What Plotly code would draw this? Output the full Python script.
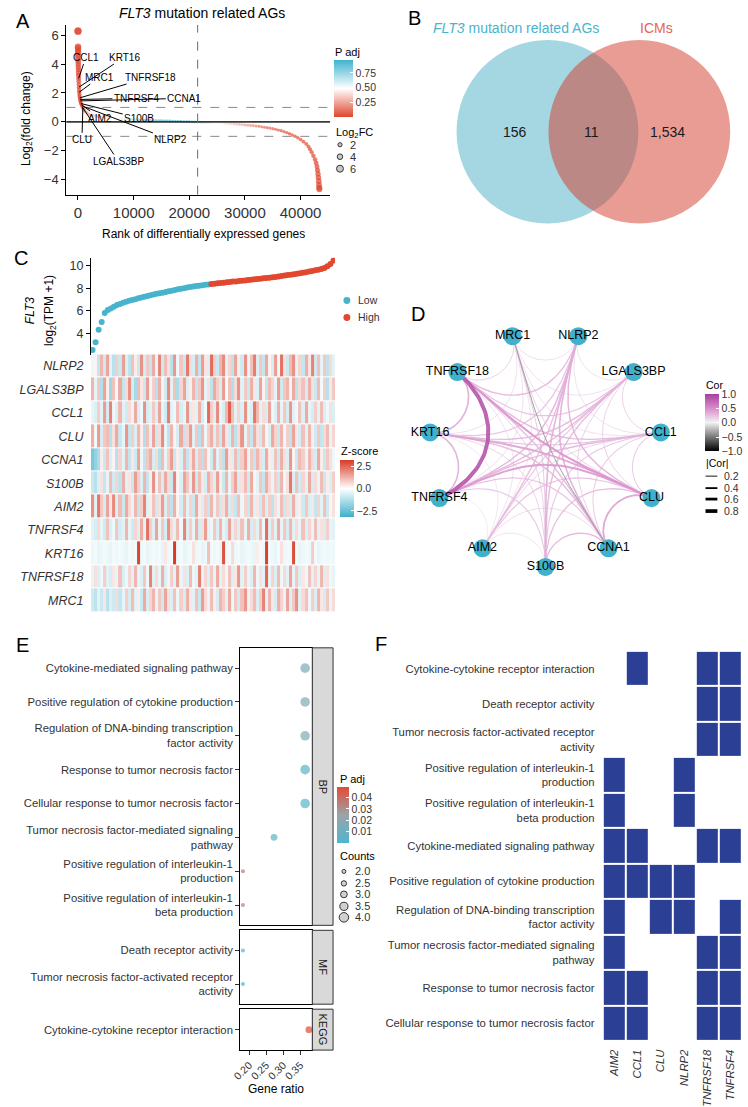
import numpy as np
import plotly.graph_objects as go

W, H = 748, 1107
def X(px): return px / W
def Y(py): return 1 - py / H

FONT = "Liberation Sans, Arial, Helvetica, sans-serif"
INK = "#1a1a1a"
GT = "#333333"
TEAL = "#47B3CC"
RED = "#E2472F"

# ================= Panel A data =================
a_rank_head = [1, 3, 6, 10, 15, 21, 28, 36, 45, 55,
               66, 78, 91, 105, 120, 137, 156, 177, 200, 226,
               255, 288, 325, 367, 415, 470, 532, 600, 680, 770,
               870, 990, 1130, 1300, 1500, 1750, 2050, 2400, 2800, 3300, 3700]
a_fc_head = [6.3, 6.25, 5.2, 5.1, 4.95, 4.8, 4.6, 4.4, 4.2, 4.0,
             3.8, 3.6, 3.4, 3.2, 3.0, 2.8, 2.6, 2.4, 2.2, 2.05,
             1.9, 1.78, 1.66, 1.55, 1.45, 1.36, 1.27, 1.19, 1.11, 1.03,
             0.96, 0.88, 0.8, 0.72, 0.65, 0.58, 0.52, 0.47, 0.43, 0.4, 0.38]
a_padj_head = [0.001, 0.001, 0.002, 0.001, 0.002, 0.001, 0.002, 0.001, 0.002, 0.001,
               0.002, 0.003, 0.002, 0.003, 0.002, 0.003, 0.004, 0.003, 0.004, 0.005,
               0.004, 0.005, 0.006, 0.007, 0.008, 0.009, 0.01, 0.012, 0.02, 0.05,
               0.08, 0.12, 0.16, 0.2, 0.24, 0.27, 0.29, 0.31, 0.32, 0.33, 0.34]
a_rank_mid = [4000, 4500, 5000, 5500, 6000, 6500, 7000, 7500, 8000, 8500,
              9000, 9500, 10000, 10500, 11000, 11500, 12000, 12500, 13000, 13500,
              14000, 14500, 15000, 15500, 16000, 16500, 17000, 17500, 18000, 18500,
              19000, 19500, 20000, 20500, 21000, 21500, 22000, 22500, 23000, 23500,
              24000, 24500, 25000, 25500, 26000, 26500, 27000, 27500, 28000, 28500,
              29000, 29500, 30000, 30500, 31000, 31500, 32000, 32500, 33000, 33500,
              34000, 34500, 35000, 35500, 36000, 36500, 37000, 37500, 38000, 38500]
a_fc_mid = [0.36, 0.33, 0.31, 0.29, 0.27, 0.25, 0.235, 0.22, 0.21, 0.20,
            0.18, 0.17, 0.16, 0.15, 0.14, 0.13, 0.12, 0.11, 0.10, 0.10,
            0.09, 0.08, 0.08, 0.07, 0.06, 0.06, 0.05, 0.04, 0.04, 0.03,
            0.02, 0.02, 0.01, 0.0, 0.0, -0.01, -0.02, -0.03, -0.04, -0.05,
            -0.06, -0.07, -0.08, -0.09, -0.10, -0.11, -0.12, -0.13, -0.15, -0.16,
            -0.18, -0.19, -0.21, -0.23, -0.25, -0.27, -0.29, -0.31, -0.34, -0.37,
            -0.40, -0.43, -0.47, -0.51, -0.56, -0.61, -0.67, -0.74, -0.82, -0.91]
a_padj_mid = [0.35, 0.37, 0.40, 0.42, 0.45, 0.48, 0.50, 0.53, 0.56, 0.60,
              0.63, 0.66, 0.70, 0.73, 0.76, 0.79, 0.82, 0.85, 0.87, 0.89,
              0.91, 0.92, 0.93, 0.94, 0.95, 0.96, 0.96, 0.97, 0.97, 0.96,
              0.94, 0.92, 0.90, 0.87, 0.83, 0.79, 0.75, 0.70, 0.65, 0.60,
              0.56, 0.52, 0.49, 0.46, 0.43, 0.40, 0.37, 0.34, 0.31, 0.29,
              0.27, 0.25, 0.23, 0.21, 0.19, 0.17, 0.15, 0.13, 0.12, 0.10,
              0.09, 0.08, 0.07, 0.06, 0.05, 0.04, 0.03, 0.03, 0.02, 0.02]
a_rank_tail = [39000, 39500, 40000, 40500, 41000, 41400, 41700, 42000, 42300, 42600,
               42800, 42950, 43050, 43130, 43200, 43260, 43310, 43350, 43380]
a_fc_tail = [-1.0, -1.1, -1.22, -1.36, -1.52, -1.7, -1.9, -2.1, -2.35, -2.6,
             -2.85, -3.1, -3.35, -3.6, -3.85, -4.1, -4.35, -4.55, -4.65]
a_padj_tail = [0.015, 0.012, 0.01, 0.008, 0.006, 0.005, 0.004, 0.003, 0.002, 0.002,
               0.001, 0.001, 0.001, 0.001, 0.001, 0.001, 0.001, 0.001, 0.001]
a_rank_cutoff = 21500
a_label_genes = ["CCL1", "KRT16", "MRC1", "TNFRSF18", "TNFRSF4", "CCNA1",
                 "S100B", "AIM2", "NLRP2", "LGALS3BP", "CLU"]
a_label_rank = [120, 177, 226, 325, 367, 415, 532, 600, 680, 770, 870]
a_label_fc = [3.0, 2.4, 2.05, 1.66, 1.55, 1.45, 1.27, 1.19, 1.11, 1.03, 0.96]
a_size_legend = [2, 4, 6]

# ================= Panel B data =================
b_sets = ["<i>FLT3</i> mutation related AGs", "ICMs"]
b_counts = ["156", "11", "1,534"]

# ================= Panel C data =================
c_flt3 = [2.5, 3.2, 4.3, 5.0, 5.8, 6.05, 6.2, 6.35, 6.5, 6.6,
          6.7, 6.8, 6.87, 6.95, 7.02, 7.1, 7.17, 7.23, 7.3, 7.37,
          7.43, 7.5, 7.55, 7.6, 7.66, 7.72, 7.78, 7.84, 7.9, 7.95,
          8.0, 8.05, 8.1, 8.14, 8.18, 8.22, 8.26, 8.3, 8.33, 8.36,
          8.4, 8.43, 8.46, 8.49, 8.52, 8.55, 8.58, 8.6, 8.63, 8.66,
          8.69, 8.72, 8.75, 8.78, 8.81, 8.84, 8.87, 8.9, 8.93, 8.97,
          9.0, 9.04, 9.08, 9.12, 9.16, 9.2, 9.24, 9.28, 9.32, 9.37,
          9.42, 9.47, 9.52, 9.58, 9.63, 9.7, 9.8, 9.95, 10.15, 10.45]
c_group_low_count = 39  # first 39 samples = Low, the rest = High
c_genes = ["NLRP2", "LGALS3BP", "CCL1", "CLU", "CCNA1", "S100B", "AIM2",
           "TNFRSF4", "KRT16", "TNFRSF18", "MRC1"]
hm_NLRP2 = [-0.3, 0.2, -1.0, 1.2, -0.8, 1.5, -0.5, -1.2, 0.8, -0.9,
            1.6, -0.6, -1.1, 1.0, 0.3, -0.9, 1.8, -0.7, 0.9, -1.0,
            1.4, -0.4, 2.0, -0.8, 1.1, 0.5, -1.2, 1.7, -0.3, 0.9,
            -0.9, 2.2, 0.6, -0.7, 1.3, -1.0, 1.6, 0.4, -0.6, 2.4,
            0.8, -0.9, 1.2, 1.9, -0.5, 0.7, -1.1, 1.5, 0.3, -0.8,
            1.8, -0.4, 1.0, 2.1, -0.6, 0.9, -1.0, 1.4, 0.2, -0.7,
            1.6, -0.3, 2.3, 0.5, -0.9, 1.1, 1.8, -0.5, 0.7, -1.0,
            1.3, 0.4, 2.0, -0.8, 1.0, -0.4, 0.9, -1.1, 0.6, -0.5]
hm_LGALS3BP = [1.2, -0.4, 0.9, -1.3, 1.5, 0.3, -1.6, 1.0, -0.2, 1.4,
               -1.0, 0.6, 1.8, -0.7, -1.5, 1.1, 0.4, -0.9, 1.6, -0.3,
               0.8, -1.2, 1.3, 0.2, -0.8, 1.9, -0.5, 1.0, -1.4, 0.7,
               1.5, -0.6, 0.3, 1.2, -1.0, 0.9, 1.7, -0.4, 0.5, -1.1,
               1.4, 0.8, -0.7, 1.6, -0.2, 1.0, -1.3, 0.6, 1.8, -0.5,
               0.9, -0.9, 1.3, 0.4, -0.6, 1.5, 0.2, -1.0, 1.1, 0.7,
               -0.4, 1.6, -0.8, 0.9, 1.2, -0.3, 1.4, -1.1, 0.6, 1.0,
               -0.7, 1.3, 0.5, -0.9, 1.1, -0.2, 0.8, -1.2, 0.4, 0.9]
hm_CCL1 = [-0.4, -0.6, 0.8, -0.5, 1.6, -0.7, 2.0, -0.3, -0.6, 1.2,
           -0.5, -0.8, 0.6, -0.4, 1.4, -0.6, -0.3, 1.8, -0.7, -0.5,
           0.9, -0.6, 1.5, -0.4, -0.8, 2.1, -0.5, -0.3, 1.1, -0.7,
           -0.4, 1.7, -0.6, 0.4, -0.5, 1.3, -0.7, -0.2, 2.4, 0.8,
           -0.6, 1.9, -0.4, -0.7, 1.2, 2.6, 1.0, -0.5, 0.7, -0.6,
           1.8, -0.4, -0.6, 2.2, 1.1, -0.5, 0.6, -0.7, 1.5, -0.3,
           -0.6, 1.3, -0.4, 0.9, -0.7, 1.7, -0.5, -0.3, 1.0, -0.6,
           1.4, -0.4, -0.7, 0.8, -0.5, 1.1, -0.6, -0.3, 0.5, -0.6]
hm_CLU = [1.3, -0.2, 1.6, -0.7, 0.9, 1.1, -1.2, 0.5, 1.4, -0.9,
          -0.4, 1.7, -1.0, 0.8, -0.6, 1.2, 0.3, -1.3, 1.0, -0.5,
          1.5, -0.8, 0.6, 1.9, -0.4, -1.1, 1.2, 0.2, -0.7, 1.4,
          -1.0, 0.7, 1.6, -0.5, 0.9, -1.2, 1.1, -0.3, 0.8, 1.3,
          -0.6, 1.0, -0.9, 1.5, 0.4, -0.7, 1.2, -1.1, 0.6, 1.7,
          -0.4, 0.9, -1.0, 1.3, 0.5, -0.8, 1.1, 0.2, -0.6, 1.4,
          0.7, -0.9, 1.2, -0.3, 0.8, -1.1, 1.5, 0.4, -0.7, 1.0,
          -0.5, 1.2, 0.3, -0.8, 0.9, -1.0, 0.6, 1.1, -0.4, 0.7]
hm_CCNA1 = [-2.2, -1.8, -1.4, 0.3, -0.9, 1.0, -0.6, 0.2, -1.2, 0.7,
            -0.5, 1.2, -1.0, 0.4, -0.8, 1.5, -0.3, -1.1, 0.9, 1.3,
            -0.7, 0.6, -1.3, 1.1, -0.4, 0.8, 1.6, -0.9, 0.3, -0.6,
            1.2, -1.0, 0.5, 1.4, -0.7, 0.9, -1.2, 1.0, 0.2, -0.8,
            1.3, -0.5, 0.7, -1.1, 1.6, 0.4, -0.6, 1.1, -0.9, 0.8,
            1.5, -0.4, 0.9, -1.0, 1.2, 0.6, -0.7, 1.4, 0.3, -0.5,
            1.0, -0.8, 1.3, 0.5, -0.6, 1.7, 0.2, -0.9, 1.1, 0.8,
            -0.4, 1.2, 0.6, -0.7, 1.4, 0.3, -0.9, 0.9, 0.5, -0.3]
hm_S100B = [-0.9, -1.2, -0.6, 0.5, -1.0, -0.4, 1.1, -0.8, 0.7, -1.1,
            1.3, -0.5, 0.4, -0.9, 1.6, 0.8, -0.6, 1.2, -1.0, 0.3,
            1.8, -0.4, 1.0, -0.7, 1.4, 0.6, -0.9, 2.0, 0.2, -0.6,
            1.5, 0.9, -0.5, 1.7, -0.8, 1.1, 0.4, -0.7, 1.3, 0.7,
            -0.6, 1.6, 0.3, -0.9, 1.2, -0.4, 0.8, 1.5, -0.7, 0.5,
            1.1, -0.8, 1.4, 0.2, -0.5, 0.9, -1.0, 1.3, 0.6, -0.4,
            0.8, -0.9, 1.2, -0.3, 0.5, 2.2, -0.6, 1.0, -0.8, 0.7,
            -0.5, 1.4, -0.7, 0.6, -0.4, 1.1, -0.9, 0.3, -0.6, 0.8]
hm_AIM2 = [1.8, -0.5, 2.2, 0.9, -0.7, 1.5, 0.4, 1.9, -0.6, 1.1,
           -0.9, 1.4, 0.6, -0.4, 1.2, -1.0, 0.8, 2.0, -0.5, 0.3,
           1.0, -0.8, 0.5, 1.6, -0.6, 0.9, -1.1, 1.3, 0.2, -0.7,
           1.1, -0.5, 0.7, -0.9, 1.4, 0.3, -0.6, 0.8, -1.0, 1.2,
           -0.4, 0.9, -0.8, 0.5, 1.3, -0.7, 0.6, -1.0, 1.0, -0.3,
           0.7, -0.9, 1.2, -0.5, 0.4, -0.8, 1.0, -0.6, 0.8, -1.1,
           0.5, -0.4, 1.1, -0.9, 0.6, -0.7, 1.3, -0.5, 0.3, -0.8,
           0.9, -0.6, 0.4, -1.0, 0.7, -0.5, 1.0, -0.8, 0.2, 0.5]
hm_TNFRSF4 = [-0.5, -0.7, 0.6, -0.4, -0.8, 1.0, -0.6, -0.3, 0.9, -0.7,
              -0.5, 1.2, -0.4, -0.8, 0.7, -0.6, 1.4, -0.5, 2.3, 0.8,
              -0.6, 1.5, -0.4, 0.9, -0.7, 1.8, 0.6, -0.5, 1.1, -0.3,
              2.0, -0.6, 0.8, -0.4, 1.3, -0.7, 0.5, 1.6, -0.5, -0.3,
              0.9, -0.6, 1.2, -0.4, -0.7, 1.5, -0.5, 0.7, -0.6, 1.0,
              -0.4, 1.3, -0.7, 0.6, -0.5, 1.1, -0.3, 2.4, -0.6, 0.8,
              -0.5, 1.4, -0.4, 0.9, -0.7, 1.2, -0.5, 0.6, -0.4, 1.0,
              -0.6, 0.7, -0.4, 1.1, -0.5, 0.5, -0.7, 0.8, -0.4, -0.5]
hm_KRT16 = [-0.3, -0.2, -0.4, -0.3, -0.2, -0.3, -0.4, -0.2, -0.3, -0.2,
            -0.3, -0.4, -0.2, -0.3, -0.2, 3.0, -0.3, -0.2, -0.4, -0.3,
            -0.2, -0.3, -0.2, -0.4, 0.4, -0.3, -0.2, 3.2, -0.3, -0.2,
            -0.4, -0.3, -0.2, 0.5, -0.3, -0.2, -0.4, -0.3, 1.0, -0.2,
            -0.3, -0.2, -0.4, 2.8, -0.3, -0.2, 0.6, -0.3, -0.2, -0.4,
            -0.3, -0.2, -0.3, -0.4, 0.3, -0.2, -0.3, 3.1, -0.2, -0.3,
            -0.4, -0.2, 0.5, -0.3, -0.2, -0.3, 2.9, -0.2, -0.4, -0.3,
            -0.2, -0.3, 0.8, -0.2, -0.4, -0.3, -0.2, -0.3, -0.2, -0.3]
hm_TNFRSF18 = [-0.4, 0.5, -0.6, -0.3, 0.8, -0.5, -0.7, 0.4, -0.4, 1.0,
               -0.6, -0.3, 0.7, -0.5, 1.2, -0.4, -0.6, 0.9, -0.3, 2.0,
               -0.5, 0.6, -0.4, 1.3, -0.6, -0.3, 0.8, -0.5, 1.6, -0.4,
               0.5, -0.6, 1.1, -0.3, -0.5, 2.1, -0.4, 0.7, -0.6, 0.9,
               -0.4, 1.4, -0.5, 0.6, -0.3, 1.0, -0.6, 0.4, 1.7, -0.5,
               0.8, -0.4, -0.6, 1.2, -0.3, 0.5, -0.5, 2.5, -0.4, 0.7,
               -0.6, 1.1, -0.3, 0.6, -0.5, 1.5, -0.4, 0.9, -0.6, 0.4,
               -0.3, 1.0, -0.5, 0.7, -0.4, 1.2, -0.6, 0.5, -0.3, -0.4]
hm_MRC1 = [-0.8, -1.1, -0.5, -0.9, 0.4, -1.2, -0.6, -0.8, 0.6, -1.0,
           -0.4, 0.8, -0.7, 1.1, -0.5, 0.3, -0.9, 1.4, -0.6, 0.7,
           1.2, -0.4, 0.9, -0.8, 1.5, 0.5, -0.6, 1.0, -0.3, 0.8,
           -0.7, 1.3, 0.4, -0.5, 1.0, -0.9, 1.6, 0.6, -0.4, 1.1,
           0.3, -0.7, 1.2, 0.8, -0.5, 1.4, -0.3, 0.9, -0.8, 1.0,
           1.7, -0.4, 0.6, 1.1, -0.6, 0.8, 2.0, -0.5, 1.2, 0.4,
           -0.7, 1.3, 0.7, -0.4, 1.5, -0.6, 0.9, 1.8, -0.5, 0.6,
           1.0, -0.3, 0.8, -0.6, 1.2, 0.4, -0.7, 0.9, -0.4, 0.6]
c_heat = [hm_NLRP2, hm_LGALS3BP, hm_CCL1, hm_CLU, hm_CCNA1, hm_S100B, hm_AIM2,
          hm_TNFRSF4, hm_KRT16, hm_TNFRSF18, hm_MRC1]

# ================= Panel D data =================
d_nodes = ["S100B", "CCNA1", "CLU", "CCL1", "LGALS3BP", "NLRP2", "MRC1",
           "TNFRSF18", "KRT16", "TNFRSF4", "AIM2"]
d_from = ["TNFRSF18", "TNFRSF18", "KRT16", "TNFRSF18", "KRT16", "TNFRSF4", "CLU", "MRC1", "NLRP2", "NLRP2",
          "NLRP2", "NLRP2", "NLRP2", "LGALS3BP", "LGALS3BP", "LGALS3BP", "LGALS3BP", "LGALS3BP", "LGALS3BP", "CCL1",
          "CCL1", "CCL1", "CCL1", "CCL1", "CCL1", "CCL1", "CLU", "CLU", "CCNA1", "CCNA1",
          "CCNA1", "CCNA1", "S100B", "S100B", "S100B", "S100B", "AIM2", "AIM2", "AIM2", "MRC1",
          "MRC1", "MRC1", "MRC1", "MRC1", "MRC1", "MRC1", "NLRP2", "NLRP2", "NLRP2", "LGALS3BP",
          "MRC1", "KRT16", "CCL1", "NLRP2", "MRC1"]
d_to = ["TNFRSF4", "KRT16", "TNFRSF4", "CLU", "CLU", "CLU", "CCNA1", "CCNA1", "TNFRSF4", "AIM2",
        "S100B", "KRT16", "TNFRSF18", "TNFRSF4", "AIM2", "S100B", "KRT16", "TNFRSF18", "CCNA1", "KRT16",
        "TNFRSF4", "TNFRSF18", "S100B", "CCNA1", "CLU", "LGALS3BP", "AIM2", "S100B", "TNFRSF4", "AIM2",
        "S100B", "TNFRSF18", "TNFRSF4", "AIM2", "TNFRSF18", "KRT16", "TNFRSF4", "TNFRSF18", "KRT16", "TNFRSF18",
        "NLRP2", "KRT16", "TNFRSF4", "CLU", "S100B", "LGALS3BP", "LGALS3BP", "CLU", "CCNA1", "CLU",
        "CCL1", "CCNA1", "AIM2", "CCL1", "AIM2"]
d_cor = [0.86, 0.36, 0.34, 0.46, 0.40, 0.44, 0.40, -0.38, 0.32, 0.28,
         0.34, 0.26, 0.30, 0.30, 0.24, 0.30, 0.30, 0.26, 0.20, 0.26,
         0.30, 0.30, 0.24, 0.22, 0.22, 0.20, 0.26, 0.28, 0.26, 0.18,
         0.30, 0.30, 0.24, 0.14, 0.20, 0.20, 0.10, 0.16, 0.12, 0.20,
         0.16, 0.16, 0.16, 0.20, 0.22, 0.16, 0.16, 0.32, 0.34, 0.20,
         0.16, 0.30, 0.20, 0.16, 0.14]
d_abs_legend = [0.2, 0.4, 0.6, 0.8]

# ================= Panel E data =================
e_terms = ["Cytokine-mediated signaling pathway",
           "Positive regulation of cytokine production",
           "Regulation of DNA-binding transcription<br>factor activity",
           "Response to tumor necrosis factor",
           "Cellular response to tumor necrosis factor",
           "Tumor necrosis factor-mediated signaling<br>pathway",
           "Positive regulation of interleukin-1<br>production",
           "Positive regulation of interleukin-1<br>beta production",
           "Death receptor activity",
           "Tumor necrosis factor-activated receptor<br>activity",
           "Cytokine-cytokine receptor interaction"]
e_ontology = ["BP", "BP", "BP", "BP", "BP", "BP", "BP", "BP", "MF", "MF", "KEGG"]
e_ratio = [0.364, 0.364, 0.364, 0.364, 0.364, 0.273, 0.182, 0.182, 0.182, 0.182, 0.375]
e_count = [4, 4, 4, 4, 4, 3, 2, 2, 2, 2, 3]
e_padj = [0.016, 0.016, 0.017, 0.004, 0.004, 0.005, 0.036, 0.036, 0.0003, 0.0003, 0.0497]
e_count_legend = [2.0, 2.5, 3.0, 3.5, 4.0]

# ================= Panel F data =================
f_genes = ["AIM2", "CCL1", "CLU", "NLRP2", "TNFRSF18", "TNFRSF4"]
f_terms = ["Cytokine-cytokine receptor interaction",
           "Death receptor activity",
           "Tumor necrosis factor-activated receptor<br>activity",
           "Positive regulation of interleukin-1<br>production",
           "Positive regulation of interleukin-1<br>beta production",
           "Cytokine-mediated signaling pathway",
           "Positive regulation of cytokine production",
           "Regulation of DNA-binding transcription<br>factor activity",
           "Tumor necrosis factor-mediated signaling<br>pathway",
           "Response to tumor necrosis factor",
           "Cellular response to tumor necrosis factor"]
f_members = [["CCL1", "TNFRSF18", "TNFRSF4"],
             ["TNFRSF18", "TNFRSF4"],
             ["TNFRSF18", "TNFRSF4"],
             ["AIM2", "NLRP2"],
             ["AIM2", "NLRP2"],
             ["AIM2", "CCL1", "TNFRSF18", "TNFRSF4"],
             ["AIM2", "CCL1", "CLU", "NLRP2"],
             ["AIM2", "CLU", "NLRP2", "TNFRSF4"],
             ["AIM2", "TNFRSF18", "TNFRSF4"],
             ["AIM2", "CCL1", "TNFRSF18", "TNFRSF4"],
             ["AIM2", "CCL1", "TNFRSF18", "TNFRSF4"]]

# ================= helpers =================
fig = go.Figure()
ann = []
shapes = []

def txt(x, y, s, size=11, color=INK, xanchor="center", yanchor="middle", angle=0):
    ann.append(dict(x=X(x), y=Y(y), xref="paper", yref="paper", text=s, showarrow=False,
                    font=dict(size=size, color=color, family=FONT),
                    xanchor=xanchor, yanchor=yanchor, textangle=angle))

def circ(cx, cy, d, fill, lc="black", lw=1.0):
    shapes.append(dict(type="circle", xref="paper", yref="paper",
                       x0=X(cx - d / 2), x1=X(cx + d / 2), y0=Y(cy + d / 2), y1=Y(cy - d / 2),
                       fillcolor=fill, line=dict(color=lc, width=lw)))

def pline(x0, y0, x1, y1, color="black", width=1, dash="solid"):
    shapes.append(dict(type="line", xref="paper", yref="paper", x0=X(x0), x1=X(x1),
                       y0=Y(y0), y1=Y(y1), line=dict(color=color, width=width, dash=dash)))

def cbar(x, ytop, length, thick, tickvals, ticktext):
    return dict(x=X(x), xanchor="left", y=Y(ytop), yanchor="top", len=length, lenmode="pixels",
                thickness=thick, thicknessmode="pixels", xpad=0, ypad=0, outlinewidth=0,
                tickvals=tickvals, ticktext=ticktext, ticks="inside", ticklen=3, tickcolor="white",
                tickfont=dict(size=10.5, color=GT, family=FONT))

def hex2rgb(h):
    h = h.lstrip("#")
    return [int(h[i:i + 2], 16) for i in (0, 2, 4)]

def scale_color(scale, t):
    t = min(max(t, 0), 1)
    for (p0, c0), (p1, c1) in zip(scale[:-1], scale[1:]):
        if p0 <= t <= p1:
            f = 0 if p1 == p0 else (t - p0) / (p1 - p0)
            a, b = hex2rgb(c0), hex2rgb(c1)
            return "rgb(%d,%d,%d)" % tuple(round(a[i] + (b[i] - a[i]) * f) for i in range(3))
    return scale[-1][1]

letters = [("A", 5, 21), ("B", 402, 18), ("C", 3, 258), ("D", 405, 315), ("E", 5, 646), ("F", 368, 645)]
for s, x, y in letters:
    txt(x, y, s, 20, "black", xanchor="left")

# ================= Panel A =================
A_SCALE = [[0, "#E0462F"], [0.5, "#FFFFFF"], [1, "#3FB3CF"]]
a_rank = a_rank_mid + a_rank_tail + a_rank_head
a_fc = a_fc_mid + a_fc_tail + a_fc_head
a_padj = a_padj_mid + a_padj_tail + a_padj_head
a_size = lambda v: 2.8 + 0.7 * abs(v)
fig.add_trace(go.Scatter(
    x=a_rank, y=a_fc, mode="markers", xaxis="x", yaxis="y", hoverinfo="skip", showlegend=False,
    marker=dict(size=[a_size(v) for v in a_fc], color=a_padj, colorscale=A_SCALE, cmin=0, cmax=0.97,
                line=dict(width=0), showscale=True,
                colorbar=cbar(329, 60, 57, 19, [0.25, 0.5, 0.75], ["0.25", "0.50", "0.75"]))))

shapes.append(dict(type="line", xref="x domain", yref="y", x0=0, x1=1, y0=0, y1=0,
                   line=dict(color="#3a3a3a", width=1.6)))
for yv in (1, -1):
    shapes.append(dict(type="line", xref="x domain", yref="y", x0=0, x1=1, y0=yv, y1=yv,
                       line=dict(color="#8a8a8a", width=1, dash="dash")))
shapes.append(dict(type="line", xref="x", yref="y domain", x0=a_rank_cutoff, x1=a_rank_cutoff, y0=0, y1=1,
                   line=dict(color="#6a6a6a", width=1, dash="dash")))

a_label_text = {"CCL1": (1422, 4.48), "KRT16": (8355, 4.48), "MRC1": (3911, 3.1),
                "TNFRSF18": (12978, 3.1), "TNFRSF4": (10490, 1.63), "CCNA1": (19100, 1.63),
                "AIM2": (3900, 0.26), "S100B": (11000, 0.26), "NLRP2": (16700, -1.24),
                "CLU": (710, -1.24), "LGALS3BP": (7290, -2.74)}
for g, r, f in zip(a_label_genes, a_label_rank, a_label_fc):
    tx, ty = a_label_text[g]
    ann.append(dict(x=r, y=f, xref="x", yref="y", ax=tx, ay=ty, axref="x", ayref="y", text=g,
                    showarrow=True, arrowhead=0, arrowwidth=1, arrowcolor="black", standoff=0,
                    startstandoff=0, font=dict(size=10, color="black", family=FONT)))

txt(195, 13, "<i>FLT3</i> mutation related AGs", 14, "black")
txt(17.5, 119, "Log<sub>2</sub>(fold change)", 12, "black", angle=-90)
txt(197, 234, "Rank of differentially expressed genes", 12, "black")
txt(328, 52, "P adj", 11, "black", xanchor="left")
txt(329, 133, "Log<sub>2</sub>FC", 11, "black", xanchor="left")
for v, yy in zip(a_size_legend, (145, 157, 169)):
    circ(335, yy, a_size(v), "#C8C8C8", "#333333", 1)
    txt(343, yy, str(v), 11, GT, xanchor="left")

# ================= Panel B (Venn) =================
circ(545, 132, 184, "rgba(75,175,197,0.5)", "rgba(0,0,0,0)", 0)
circ(638, 132, 184, "rgba(211,57,41,0.5)", "rgba(0,0,0,0)", 0)
txt(513, 28, b_sets[0], 14, "#48B4CD")
txt(655, 28, b_sets[1], 14, "#E66450")
for s, x in zip(b_counts, (512, 590, 667)):
    txt(x, 132, s, 14, "#1a1a1a")

# ================= Panel C =================
n_c = len(c_flt3)
c_idx = list(range(n_c))
lo = c_group_low_count
fig.add_trace(go.Scatter(x=c_idx[:lo], y=c_flt3[:lo], mode="markers", xaxis="x3", yaxis="y3",
                         marker=dict(size=6, color=TEAL), hoverinfo="skip", showlegend=False))
fig.add_trace(go.Scatter(x=c_idx[lo:], y=c_flt3[lo:], mode="markers", xaxis="x3", yaxis="y3",
                         marker=dict(size=6, color=RED), hoverinfo="skip", showlegend=False))
C_SCALE = [[0, "#3FAFCB"], [0.5, "#FFFFFF"], [1, "#D93A25"]]
fig.add_trace(go.Heatmap(z=c_heat, x=c_idx, y=list(range(len(c_genes))), xaxis="x4", yaxis="y4",
                         colorscale=C_SCALE, zmin=-3.2, zmax=3.2, ygap=1, hoverinfo="skip",
                         showscale=True,
                         colorbar=cbar(335, 461, 57, 14, [-2.5, 0, 2.5], ["\u22122.5", "0.0", "2.5"])))
txt(22, 311, "<i>FLT3</i>", 12, "black", angle=-90)
txt(42, 311, "log<sub>2</sub>(TPM +1)", 12, "black", angle=-90)
circ(342, 301, 7, TEAL, TEAL, 0)
circ(342, 318, 7, RED, RED, 0)
txt(351, 301, "Low", 10.5, GT, xanchor="left")
txt(351, 318, "High", 10.5, GT, xanchor="left")
txt(334, 452, "Z-score", 11, "black", xanchor="left")

# ================= Panel D =================
COR_SCALE = [[0, "#000000"], [0.25, "#7A7A7A"], [0.5, "#F2F2F2"], [0.75, "#D98BCB"], [1, "#A8409E"]]
ang = {n: np.deg2rad(-90 + i * 360 / len(d_nodes)) for i, n in enumerate(d_nodes)}
pos = {n: np.array([np.cos(a), np.sin(a)]) for n, a in ang.items()}
tt = np.linspace(0, 1, 50)[:, None]
for f, to, c in sorted(zip(d_from, d_to, d_cor), key=lambda e: abs(e[2])):
    p0, p3 = pos[f], pos[to]
    dd = np.linalg.norm(p3 - p0) / 2
    p1, p2 = p0 * (1 - dd), p3 * (1 - dd)
    pts = (1 - tt) ** 3 * p0 + 3 * (1 - tt) ** 2 * tt * p1 + 3 * (1 - tt) * tt ** 2 * p2 + tt ** 3 * p3
    wdt = max(0.7, 4.6 * abs(c)) if c > 0 else 1.0
    fig.add_trace(go.Scatter(x=pts[:, 0], y=pts[:, 1], mode="lines", xaxis="x5", yaxis="y5",
                             line=dict(color=scale_color(COR_SCALE, (c + 1) / 2), width=wdt),
                             opacity=0.9, hoverinfo="skip", showlegend=False))
fig.add_trace(go.Scatter(x=[pos[n][0] for n in d_nodes], y=[pos[n][1] for n in d_nodes],
                         mode="markers+text", text=d_nodes, textposition="middle center",
                         textfont=dict(size=12.5, color="black", family=FONT),
                         marker=dict(size=18, color="#41B0CB"), xaxis="x5", yaxis="y5",
                         hoverinfo="skip", showlegend=False))
fig.add_trace(go.Scatter(x=[0], y=[0], mode="markers", xaxis="x5", yaxis="y5", hoverinfo="skip",
                         showlegend=False,
                         marker=dict(size=0.1, color=[0], cmin=-1, cmax=1, colorscale=COR_SCALE,
                                     showscale=True,
                                     colorbar=cbar(704, 395, 57, 14, [-1, -0.5, 0, 0.5, 1],
                                                   ["\u22121.0", "\u22120.5", "0.0", "0.5", "1.0"]))))
txt(703, 386, "Cor", 10.5, "black", xanchor="left")
txt(703, 464, "|Cor|", 10.5, "black", xanchor="left")
for v, yy in zip(d_abs_legend, (477, 489, 500, 512)):
    pline(705, yy, 717, yy, "black", 4.6 * v)
    txt(722, yy, str(v), 10.5, GT, xanchor="left")

# ================= Panel E =================
E_SCALE = [[0, "#4DB6CF"], [0.5, "#9AA4A8"], [1, "#E24A33"]]
e_size = lambda c: 4 + (c - 2) * 2.8
e_cmin, e_cmax = min(e_padj), max(e_padj)
panels = [("BP", "x6", "y6"), ("MF", "x7", "y7"), ("KEGG", "x8", "y8")]
e_ticks = {}
for k, (ont, xa, ya) in enumerate(panels):
    idx = [i for i, o in enumerate(e_ontology) if o == ont]
    e_ticks[ont] = [e_terms[i] for i in idx]
    mk = dict(size=[e_size(e_count[i]) for i in idx], color=[e_padj[i] for i in idx],
              colorscale=E_SCALE, cmin=e_cmin, cmax=e_cmax, line=dict(width=0))
    if k == 0:
        mk.update(showscale=True,
                  colorbar=cbar(332, 788, 56, 12, [0.01, 0.02, 0.03, 0.04], ["0.01", "0.02", "0.03", "0.04"]))
    fig.add_trace(go.Scatter(x=[e_ratio[i] for i in idx], y=list(range(len(idx))), mode="markers",
                             xaxis=xa, yaxis=ya, marker=mk, hoverinfo="skip", showlegend=False))

strip_pos = {"BP": (649, 927), "MF": (932, 1006), "KEGG": (1011, 1052)}
for ont, (t0, t1) in strip_pos.items():
    shapes.append(dict(type="rect", xref="paper", yref="paper", x0=X(307), x1=X(328), y0=Y(t1), y1=Y(t0),
                       fillcolor="#D9D9D9", line=dict(color="#333333", width=1)))
    txt(318, (t0 + t1) / 2, ont, 11, "#1a1a1a", angle=90)
txt(270, 1091, "Gene ratio", 12, "black")
txt(333, 780, "P adj", 11, "black", xanchor="left")
txt(333, 858, "Counts", 11, "black", xanchor="left")
for v, yy in zip(e_count_legend, (873, 885, 896, 908, 919)):
    circ(339, yy, e_size(v), "#D0D0D0", "#333333", 1)
    txt(348, yy, "%.1f" % v, 11, GT, xanchor="left")

# ================= Panel F =================
f_z = [[1 if g in m else 0 for g in f_genes] for m in f_members]
fig.add_trace(go.Heatmap(z=f_z, x=list(range(len(f_genes))), y=list(range(len(f_terms))), xaxis="x9",
                         yaxis="y9", colorscale=[[0, "#FFFFFF"], [1, "#2B3F94"]], zmin=0, zmax=1,
                         xgap=2, ygap=2, showscale=False, hoverinfo="skip"))

# ================= layout =================
tickf = lambda s: dict(size=s, color=GT, family=FONT)
base_ax = dict(showgrid=False, zeroline=False)
layout = dict(width=W, height=H, margin=dict(l=0, r=0, t=0, b=0), paper_bgcolor="white",
              plot_bgcolor="white", showlegend=False, font=dict(family=FONT),
              annotations=ann, shapes=shapes)
layout["xaxis"] = dict(base_ax, domain=[X(58), X(325)], range=[-2100, 45300], anchor="y",
                       showline=True, linecolor="black", linewidth=1, ticks="outside", ticklen=4,
                       tickcolor="black", tickvals=[0, 10000, 20000, 30000, 40000],
                       ticktext=["0", "10000", "20000", "30000", "40000"], tickfont=tickf(15))
layout["yaxis"] = dict(base_ax, domain=[Y(195), Y(25)], range=[-5.03, 6.7], anchor="x",
                       showline=True, linecolor="black", linewidth=1, ticks="outside", ticklen=4,
                       tickcolor="black", tickvals=[-4, -2, 0, 2, 4, 6],
                       ticktext=["\u22124", "\u22122", "0", "2", "4", "6"], tickfont=tickf(13))
layout["xaxis3"] = dict(base_ax, domain=[X(83), X(330)], range=[-0.5, n_c - 0.5], anchor="y3",
                        visible=False)
layout["yaxis3"] = dict(base_ax, domain=[Y(356), Y(258)], range=[2.03, 10.72], anchor="x3",
                        showline=True, linecolor="black", linewidth=1, ticks="outside", ticklen=4,
                        tickcolor="black", tickvals=[4, 6, 8, 10], tickfont=tickf(12.5))
layout["xaxis4"] = dict(base_ax, domain=[X(83), X(330)], range=[-0.5, n_c - 0.5], anchor="y4",
                        visible=False)
layout["yaxis4"] = dict(base_ax, domain=[Y(613), Y(355)], range=[len(c_genes) - 0.5, -0.5], anchor="x4",
                        tickvals=list(range(len(c_genes))), ticktext=["<i>%s</i>" % g for g in c_genes],
                        ticks="outside", ticklen=4, tickcolor="rgba(0,0,0,0)", tickfont=tickf(12.5),
                        showline=False)
layout["xaxis5"] = dict(base_ax, domain=[X(400), X(690)], range=[(400 - 543) / 118, (690 - 543) / 118],
                        anchor="y5", visible=False)
layout["yaxis5"] = dict(base_ax, domain=[Y(590), Y(310)], range=[(450 - 590) / 118, (450 - 310) / 118],
                        anchor="x5", visible=False)
e_dom = {"BP": (649, 927), "MF": (932, 1006), "KEGG": (1011, 1052)}
for ont, xa, ya in panels:
    n = len(e_ticks[ont])
    t0, t1 = e_dom[ont]
    xk = "xaxis" + xa[1:]
    yk = "yaxis" + ya[1:]
    bottom = ont == "KEGG"
    layout[xk] = dict(base_ax, domain=[X(234), X(307)], range=[0.174, 0.385], anchor=ya,
                      showline=True, mirror=True, linecolor="black", linewidth=1,
                      ticks="outside" if bottom else "", ticklen=4, tickcolor=GT,
                      showticklabels=bottom, tickvals=[0.20, 0.25, 0.30, 0.35],
                      ticktext=["0.20", "0.25", "0.30", "0.35"], tickangle=-45, tickfont=tickf(10.5))
    layout[yk] = dict(base_ax, domain=[Y(t1), Y(t0)], range=[n - 0.4, -0.6], anchor=xa,
                      showline=True, mirror=True, linecolor="black", linewidth=1,
                      ticks="outside", ticklen=4, tickcolor=GT, tickvals=list(range(n)),
                      ticktext=e_ticks[ont], tickfont=tickf(11.3))
layout["xaxis9"] = dict(base_ax, domain=[X(601), X(742)], range=[-0.5, len(f_genes) - 0.5], anchor="y9",
                        tickvals=list(range(len(f_genes))), ticktext=["<i>%s</i>" % g for g in f_genes],
                        tickangle=-90, ticks="outside", ticklen=3, tickcolor="rgba(0,0,0,0)",
                        tickfont=tickf(11.3), showline=False)
layout["yaxis9"] = dict(base_ax, domain=[Y(1043), Y(652)], range=[len(f_terms) - 0.5, -0.5], anchor="x9",
                        tickvals=list(range(len(f_terms))), ticktext=f_terms, ticks="outside", ticklen=5,
                        tickcolor="rgba(0,0,0,0)", tickfont=tickf(11.3), showline=False)
fig.update_layout(**layout)
fig.write_html("out.html", config={"displayModeBar": False, "staticPlot": True},
               post_script="document.body.style.margin='0px';document.body.style.overflow='hidden';")
